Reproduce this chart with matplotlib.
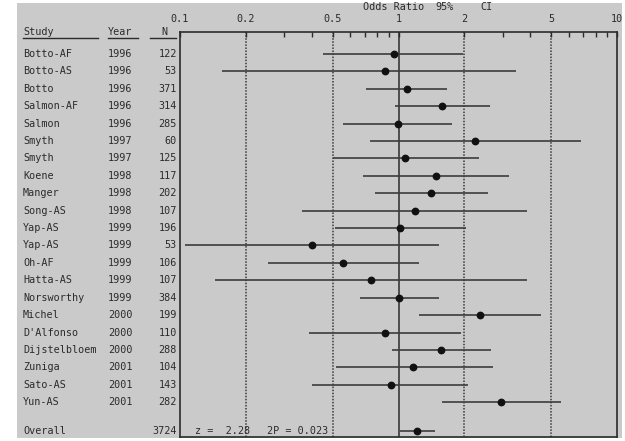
import matplotlib
matplotlib.use("Agg")
import matplotlib.pyplot as plt
from matplotlib.transforms import blended_transform_factory
from matplotlib.patches import Rectangle
from matplotlib.ticker import FixedLocator, NullFormatter

studies = ["Botto-AF", "Botto-AS", "Botto", "Salmon-AF", "Salmon", "Smyth", "Smyth",
           "Koene", "Manger", "Song-AS", "Yap-AS", "Yap-AS", "Oh-AF", "Hatta-AS",
           "Norsworthy", "Michel", "D'Alfonso", "Dijstelbloem", "Zuniga", "Sato-AS", "Yun-AS"]
years = [1996, 1996, 1996, 1996, 1996, 1997, 1997, 1998, 1998, 1998, 1999, 1999, 1999,
         1999, 1999, 2000, 2000, 2000, 2001, 2001, 2001]
n_subj = [122, 53, 371, 314, 285, 60, 125, 117, 202, 107, 196, 53, 106, 107, 384, 199,
          110, 288, 104, 143, 282]
odds = [0.95, 0.87, 1.09, 1.58, 0.99, 2.24, 1.07, 1.48, 1.41, 1.19, 1.02, 0.40, 0.56,
        0.75, 1.00, 2.35, 0.87, 1.56, 1.17, 0.92, 2.93]
ci_lo = [0.45, 0.156, 0.71, 0.96, 0.56, 0.74, 0.50, 0.69, 0.78, 0.36, 0.51, 0.105, 0.254,
         0.144, 0.67, 1.24, 0.39, 0.93, 0.52, 0.40, 1.58]
ci_hi = [1.97, 3.44, 1.66, 2.62, 1.76, 6.86, 2.34, 3.21, 2.57, 3.89, 2.03, 1.53, 1.24,
         3.89, 1.53, 4.51, 1.93, 2.64, 2.70, 2.09, 5.52]

overall_label = "Overall"
overall_n = 3724
overall_or = 1.22
overall_lo = 1.02
overall_hi = 1.47
stat_z = "z =  2.28"
stat_p = "2P = 0.023"

major_ticks = [0.1, 0.2, 0.5, 1, 2, 5, 10]
major_labels = ["0.1", "0.2", "0.5", "1", "2", "5", "10"]
minor_ticks = [0.3, 0.4, 0.6, 0.7, 0.8, 0.9, 3, 4, 6, 7, 8, 9]
dotted_refs = [0.2, 0.5, 2, 5]

W, H = 625, 441
bg = "#cacaca"
ink = "#2b2b2b"
fnt = dict(family="DejaVu Sans Mono", size=7.3, color=ink)

fig = plt.figure(figsize=(W / 100, H / 100), dpi=100)
fig.patch.set_facecolor("white")
fig.patches.append(Rectangle((17 / W, 3 / H), (622 - 17) / W, (438 - 3) / H,
                             transform=fig.transFigure, facecolor=bg, edgecolor="none", zorder=-10))

ax = fig.add_axes([180 / W, 1 - 437 / H, (617 - 180) / W, (437 - 32) / H])
ax.set_facecolor(bg)
ax.set_xscale("log")
ax.set_xlim(0.1, 10)
overall_row = 21.67
ax.set_ylim(22.0, -1.26)

for s in ax.spines.values():
    s.set_color(ink)
    s.set_linewidth(1.2)

ax.xaxis.set_ticks_position("top")
ax.xaxis.set_major_locator(FixedLocator(major_ticks))
ax.set_xticklabels(major_labels)
ax.xaxis.set_minor_locator(FixedLocator(minor_ticks))
ax.xaxis.set_minor_formatter(NullFormatter())
ax.tick_params(axis="x", which="both", direction="in", length=3.5, width=1.0,
               color=ink, labelsize=7.3, labelcolor=ink, pad=5.5)
for lab in ax.get_xticklabels():
    lab.set_family("DejaVu Sans Mono")
ax.set_yticks([])

for v in dotted_refs:
    ax.axvline(v, color="#3a3a3a", lw=1.1, ls=(0, (1, 1)), zorder=1)
ax.axvline(1, color=ink, lw=1.1, zorder=1)

rows = list(range(len(studies)))
ax.hlines(rows, ci_lo, ci_hi, color="#3c3c3c", lw=1.2, zorder=2, clip_on=True)
ax.plot(odds, rows, "o", color="#111111", ms=4.6, zorder=3, clip_on=True)
ax.hlines([overall_row], [overall_lo], [overall_hi], color="#3c3c3c", lw=1.2, zorder=2)
ax.plot([overall_or], [overall_row], "o", color="#111111", ms=4.6, zorder=3)

tr = blended_transform_factory(fig.transFigure, ax.transData)
for i, (s, y, n) in enumerate(zip(studies, years, n_subj)):
    fig.text(23 / W, i, s, transform=tr, ha="left", va="center", **fnt)
    fig.text(108 / W, i, str(y), transform=tr, ha="left", va="center", **fnt)
    fig.text(177 / W, i, str(n), transform=tr, ha="right", va="center", **fnt)
fig.text(23 / W, overall_row, overall_label, transform=tr, ha="left", va="center", **fnt)
fig.text(177 / W, overall_row, str(overall_n), transform=tr, ha="right", va="center", **fnt)

trs = blended_transform_factory(ax.transAxes, ax.transData)
ax.text(15 / 437, overall_row, stat_z, transform=trs, ha="left", va="center", **fnt)
ax.text(87 / 437, overall_row, stat_p, transform=trs, ha="left", va="center", **fnt)

# headers
def fy(y):
    return 1 - y / H
fig.text(23 / W, fy(32), "Study", ha="left", va="center", **fnt)
fig.text(108 / W, fy(32), "Year", ha="left", va="center", **fnt)
fig.text(167 / W, fy(32), "N", ha="right", va="center", **fnt)
for x0, x1 in [(23, 98), (108, 138), (150, 176)]:
    fig.add_artist(plt.Line2D([x0 / W, x1 / W], [fy(37.5), fy(37.5)], color=ink, lw=1.0,
                              transform=fig.transFigure))
fig.text(363 / W, fy(7), "Odds Ratio", ha="left", va="center", **fnt)
fig.text(435 / W, fy(7), "95%", ha="left", va="center", **fnt)
fig.text(480 / W, fy(7), "CI", ha="left", va="center", **fnt)

fig.savefig("out.png", dpi=100, facecolor=fig.get_facecolor())
